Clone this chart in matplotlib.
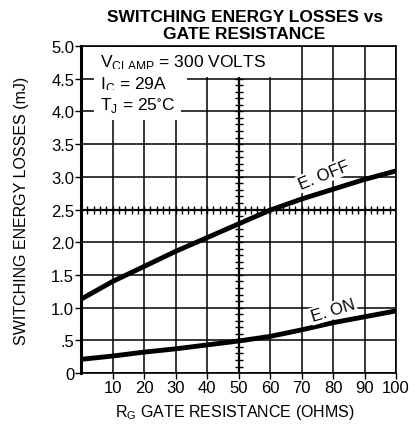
import numpy as np
import matplotlib.pyplot as plt

plt.rcParams['font.family'] = ['Liberation Sans', 'DejaVu Sans']

# Gate resistance (ohms)
rg = [0, 10, 20, 30, 40, 50, 60, 70, 80, 90, 100]
# Switching energy losses (mJ)
e_off = [1.13, 1.40, 1.63, 1.86, 2.07, 2.28, 2.49, 2.66, 2.81, 2.96, 3.09]
e_on = [0.21, 0.26, 0.32, 0.37, 0.43, 0.49, 0.56, 0.66, 0.77, 0.86, 0.95]

xticks = [10, 20, 30, 40, 50, 60, 70, 80, 90, 100]
yticks = [0, 0.5, 1.0, 1.5, 2.0, 2.5, 3.0, 3.5, 4.0, 4.5, 5.0]
ylabels = ['0', '.5', '1.0', '1.5', '2.0', '2.5', '3.0', '3.5', '4.0', '4.5', '5.0']

fig = plt.figure(figsize=(4.16, 4.27), dpi=100)
ax = fig.add_axes([0.195, 0.124, 0.757, 0.766])

ax.set_xlim(0, 100)
ax.set_ylim(0, 5.0)
ax.set_xticks(xticks)
ax.set_xticklabels([str(t) for t in xticks], fontsize=12)
ax.set_yticks(yticks)
ax.set_yticklabels(ylabels, fontsize=12)
ax.tick_params(length=4, width=1, direction='out', pad=1)
ax.grid(True, color='black', linewidth=1.1)

for s in ax.spines.values():
    s.set_linewidth(1.2)
ax.spines['left'].set_linewidth(2.2)

# crosshair minor ticks on centre lines
ym = np.arange(0.1, 5.0, 0.1)
ax.plot([50] * len(ym), ym, ls='none', marker='_', ms=6, mew=1, color='black')
xm = np.arange(2, 100, 2)
ax.plot(xm, [2.5] * len(xm), ls='none', marker='|', ms=6, mew=1, color='black')
ax.axhline(2.5, color='black', lw=1.6)
ax.axvline(50, color='black', lw=1.6)

ax.plot(rg, e_off, color='black', lw=3.5, solid_capstyle='butt')
ax.plot(rg, e_on, color='black', lw=3.5, solid_capstyle='butt')

ax.text(77, 3.03, 'E. OFF', fontsize=12, rotation=22, ha='center', va='center',
        bbox=dict(facecolor='white', edgecolor='none', pad=1))
ax.text(80, 0.96, 'E. ON', fontsize=12, rotation=17, ha='center', va='center',
        bbox=dict(facecolor='white', edgecolor='none', pad=1))

box = dict(facecolor='white', edgecolor='none', pad=4)
ax.text(6, 4.76, r'V$_{\mathregular{CLAMP}}$ = 300 VOLTS', fontsize=12.5, va='center', bbox=box)
ax.text(6, 4.42, r'I$_{\mathregular{C}}$ = 29A    ', fontsize=12.5, va='center', bbox=box)
ax.text(6, 4.10, r'T$_{\mathregular{J}}$ = 25$\mathregular{^{\circ}}$C ', fontsize=12.5, va='center', bbox=box)

fig.text(0.588, 0.977, 'SWITCHING ENERGY LOSSES vs\nGATE RESISTANCE', fontsize=12.5,
         fontweight='bold', linespacing=1.15, ha='center', va='top')
ax.set_ylabel('SWITCHING ENERGY LOSSES (mJ)', fontsize=11.5, labelpad=16)
fig.text(0.565, 0.035, r'R$_{\mathregular{G}}$ GATE RESISTANCE (OHMS)', fontsize=11.5,
         ha='center', va='center')

fig.savefig('out.png', dpi=100)
